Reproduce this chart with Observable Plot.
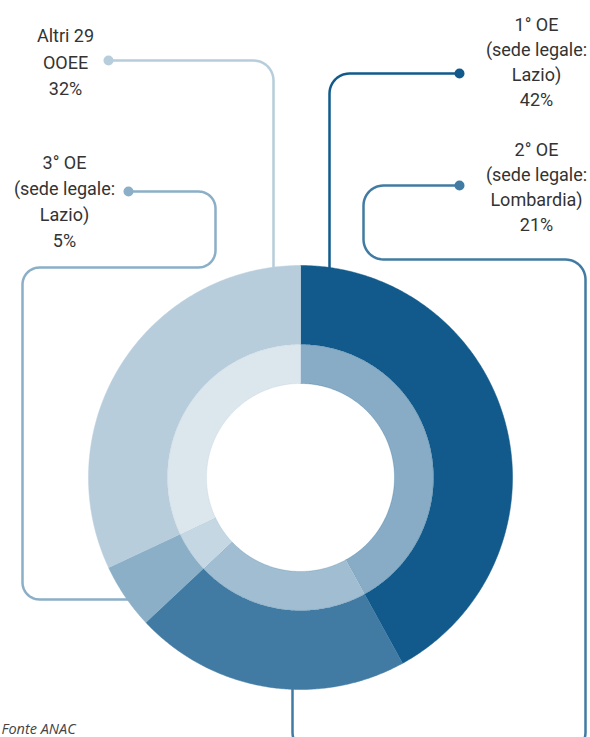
<!DOCTYPE html>
<html><head><meta charset="utf-8">
<script src="https://cdn.jsdelivr.net/npm/d3@7"></script>
<script src="https://cdn.jsdelivr.net/npm/@observablehq/plot@0.6"></script>
<style>body{margin:0;background:#fff;} #chart svg{overflow:visible}</style>
</head><body><div id="chart"></div>
<script>
// ---- data ----
const categories = ["1° OE", "2° OE", "3° OE", "Altri 29"];
const subtitles = [["(sede legale:", "Lazio)"], ["(sede legale:", "Lombardia)"], ["(sede legale:", "Lazio)"], ["OOEE"]];
const shares = [42, 21, 5, 32];
const colors = ["#115a8b", "#417ba3", "#8aafc7", "#b8cddc"];
const source = "Fonte ANAC";

// ---- layout ----
const W = 590, H = 737;
const cx = 300, cy = 477;
const rOuter = 212, rMid = 133, rHole = 94;
const labelPos = [{x: 536, y: 60}, {x: 536, y: 185}, {x: 64, y: 199}, {x: 65, y: 60}];
const lineHeights = [25, 25, 26, 26.5];
const routes = [
  [[329, 300], [329, 73], [459, 73]],
  [[292, 650], [292, 752], [585, 752], [585, 259], [363, 259], [363, 185], [459, 185]],
  [[140, 599], [22, 599], [22, 267], [215, 267], [215, 191], [128, 191]],
  [[273, 300], [273, 60], [108, 60]]
];
const cornerR = [20, 20, 17, 20];

// pie geometry
const arcs = d3.pie().sort(null).value(d => d)(shares);
function sector(a0, a1, r0, r1, id) {
  const n = Math.max(2, Math.ceil((a1 - a0) / (Math.PI / 360)));
  const pts = [];
  for (let i = 0; i <= n; i++) { const a = a0 + (a1 - a0) * i / n; pts.push({x: cx + r1 * Math.sin(a), y: cy - r1 * Math.cos(a), id}); }
  for (let i = n; i >= 0; i--) { const a = a0 + (a1 - a0) * i / n; pts.push({x: cx + r0 * Math.sin(a), y: cy - r0 * Math.cos(a), id}); }
  return pts;
}
function rounded(wp, r) {
  const out = [{x: wp[0][0], y: wp[0][1]}];
  for (let i = 1; i < wp.length - 1; i++) {
    const [ax, ay] = wp[i - 1], [px, py] = wp[i], [bx, by] = wp[i + 1];
    let ux = px - ax, uy = py - ay; const lu = Math.hypot(ux, uy); ux /= lu; uy /= lu;
    let vx = bx - px, vy = by - py; const lv = Math.hypot(vx, vy); vx /= lv; vy /= lv;
    const Cx = px - r * ux + r * vx, Cy = py - r * uy + r * vy;
    for (let k = 0; k <= 12; k++) {
      const t = (Math.PI / 2) * k / 12;
      out.push({x: Cx + r * (-Math.cos(t) * vx + Math.sin(t) * ux), y: Cy + r * (-Math.cos(t) * vy + Math.sin(t) * uy)});
    }
  }
  const l = wp[wp.length - 1];
  out.push({x: l[0], y: l[1]});
  return out;
}

const marks = [];
// connectors
routes.forEach((wp, i) => {
  marks.push(Plot.line(rounded(wp, cornerR[i]), {x: "x", y: "y", stroke: colors[i], strokeWidth: 2.5, curve: "linear"}));
  const end = wp[wp.length - 1];
  marks.push(Plot.dot([{x: end[0], y: end[1]}], {x: "x", y: "y", r: 5, fill: colors[i], stroke: "none"}));
});
// donut
arcs.forEach((a, i) => {
  marks.push(Plot.line(sector(a.startAngle, a.endAngle, rMid, rOuter, i), {x: "x", y: "y", fill: colors[i], stroke: colors[i], strokeWidth: 0.5}));
  marks.push(Plot.line(sector(a.startAngle, a.endAngle, rHole, rMid, i), {x: "x", y: "y", fill: "#ffffff", stroke: "none"}));
  marks.push(Plot.line(sector(a.startAngle, a.endAngle, rHole, rMid, i), {x: "x", y: "y", fill: colors[i], fillOpacity: 0.5, stroke: colors[i], strokeOpacity: 0.5, strokeWidth: 0.5}));
});
// labels
categories.forEach((c, i) => {
  const d = [{x: labelPos[i].x, y: labelPos[i].y, text: [c, ...subtitles[i], shares[i] + "%"].join("\n")}];
  marks.push(Plot.text(d, {x: "x", y: "y", text: "text", fontSize: 18, lineHeight: lineHeights[i] / 18, fill: "#333333", fontFamily: "Roboto", textAnchor: "middle"}));
});
marks.push(Plot.text([{x: 1, y: 729, text: source}], {x: "x", y: "y", text: "text", textAnchor: "start", fontSize: 14.5, fontStyle: "italic", fontFamily: "Open Sans", fill: "#444444"}));

const chart = Plot.plot({
  width: W, height: H, margin: 0,
  x: {domain: [0, W], range: [0, W], axis: null},
  y: {domain: [0, H], range: [0, H], axis: null},
  style: {background: "#ffffff"},
  marks
});
document.getElementById("chart").appendChild(chart);
</script>
</body></html>
